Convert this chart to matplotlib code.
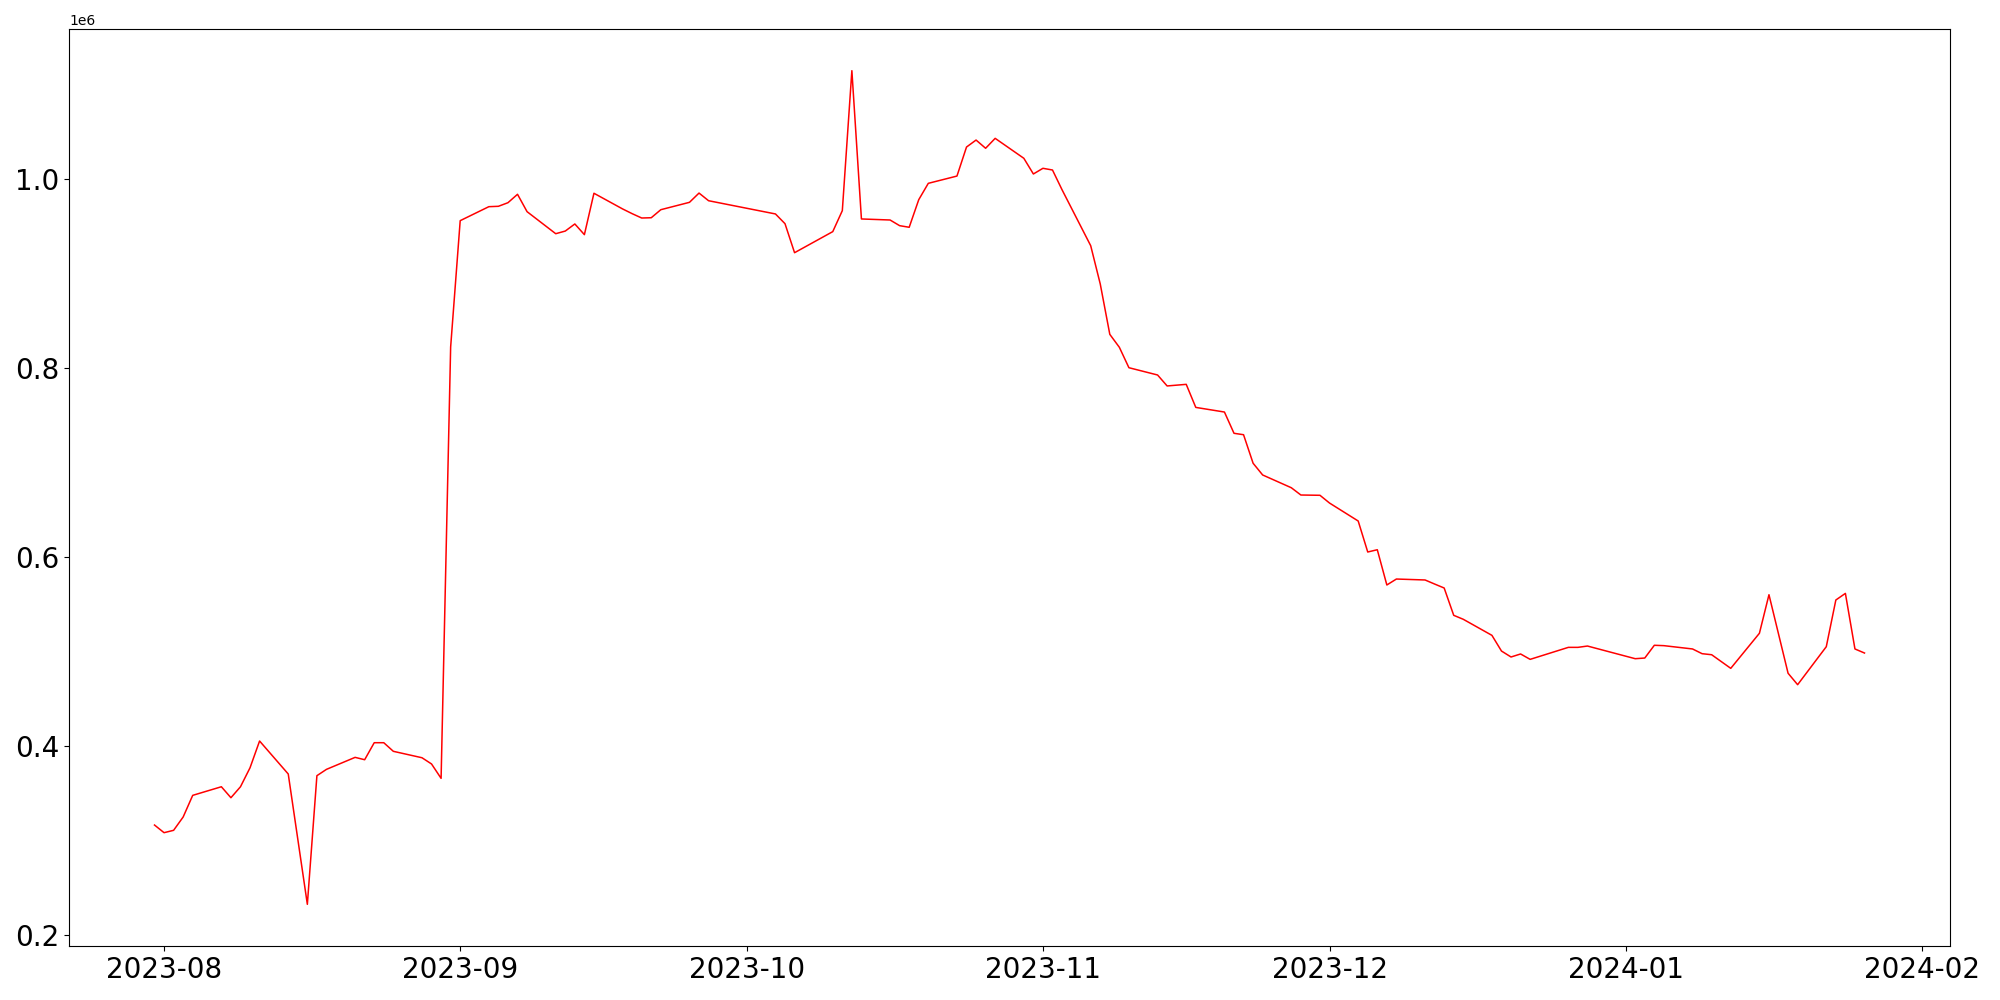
import numpy as np
import matplotlib.pyplot as plt
import pandas as pd


# daily values (business days, some gaps)

dates = [
    "2023-07-31", "2023-08-01", "2023-08-02", "2023-08-03", "2023-08-04",
    "2023-08-07", "2023-08-08", "2023-08-09", "2023-08-10", "2023-08-11",
    "2023-08-14", "2023-08-16", "2023-08-17", "2023-08-18",
    "2023-08-21", "2023-08-22", "2023-08-23", "2023-08-24", "2023-08-25",
    "2023-08-28", "2023-08-29", "2023-08-30", "2023-08-31", "2023-09-01",
    "2023-09-04", "2023-09-05", "2023-09-06", "2023-09-07", "2023-09-08",
    "2023-09-11", "2023-09-12", "2023-09-13", "2023-09-14", "2023-09-15",
    "2023-09-18", "2023-09-19", "2023-09-20", "2023-09-21", "2023-09-22",
    "2023-09-25", "2023-09-26", "2023-09-27",
    "2023-10-04", "2023-10-05", "2023-10-06",
    "2023-10-10", "2023-10-11", "2023-10-12", "2023-10-13",
    "2023-10-16", "2023-10-17", "2023-10-18", "2023-10-19", "2023-10-20",
    "2023-10-23", "2023-10-24", "2023-10-25", "2023-10-26", "2023-10-27",
    "2023-10-30", "2023-10-31", "2023-11-01", "2023-11-02", "2023-11-03",
    "2023-11-06", "2023-11-07", "2023-11-08", "2023-11-09", "2023-11-10",
    "2023-11-13", "2023-11-14", "2023-11-16", "2023-11-17",
    "2023-11-20", "2023-11-21", "2023-11-22", "2023-11-23", "2023-11-24",
    "2023-11-27", "2023-11-28", "2023-11-30", "2023-12-01",
    "2023-12-04", "2023-12-05", "2023-12-06", "2023-12-07", "2023-12-08",
    "2023-12-11", "2023-12-12", "2023-12-13", "2023-12-14", "2023-12-15",
    "2023-12-18", "2023-12-19", "2023-12-20", "2023-12-21", "2023-12-22",
    "2023-12-26", "2023-12-27", "2023-12-28",
    "2024-01-02", "2024-01-03", "2024-01-04", "2024-01-05",
    "2024-01-08", "2024-01-09", "2024-01-10", "2024-01-12",
    "2024-01-15", "2024-01-16", "2024-01-18", "2024-01-19",
    "2024-01-22", "2024-01-23", "2024-01-24", "2024-01-25", "2024-01-26",
]

values = [
    316400, 308300, 310800, 324900, 347800,
    356900, 345300, 356900, 377000, 405300,
    370400, 232500, 368600, 375300,
    388000, 385500, 403500, 403500, 394400,
    387600, 381000, 365800, 822200, 955900,
    970700, 971100, 974900, 983800, 965400,
    942100, 944900, 952400, 941100, 984900,
    968300, 963300, 958700, 959000, 967500,
    975300, 985100, 977000,
    963000, 952700, 922000,
    944300, 966500, 1114600, 957700,
    956600, 950600, 948900, 978100, 995400,
    1003100, 1033800, 1041200, 1032500, 1043000,
    1021900, 1005300, 1011300, 1009500, 988600,
    929400, 888900, 835600, 821900, 800300,
    792600, 781000, 782700, 758300,
    753400, 730900, 729400, 699200, 686800,
    673300, 665600, 665300, 657100,
    638100, 605300, 607700, 570400, 576700,
    575700, 571400, 567200, 538300, 534100,
    517100, 500500, 494200, 497400, 491700,
    504400, 504400, 505800,
    492400, 493100, 506600, 506200,
    502700, 497700, 496600, 482200,
    519300, 560100, 477000, 464900,
    505100, 554500, 561500, 502700, 498400,
]

x = pd.to_datetime(dates)

plt.figure(figsize=(20, 10), dpi=100)
plt.plot(x, values, color="red", linewidth=1.1)

plt.xticks(fontsize=20)
plt.yticks(fontsize=20)

plt.subplots_adjust(left=0.0345, right=0.975, top=0.971, bottom=0.054)
plt.savefig("out.png", dpi=100)
